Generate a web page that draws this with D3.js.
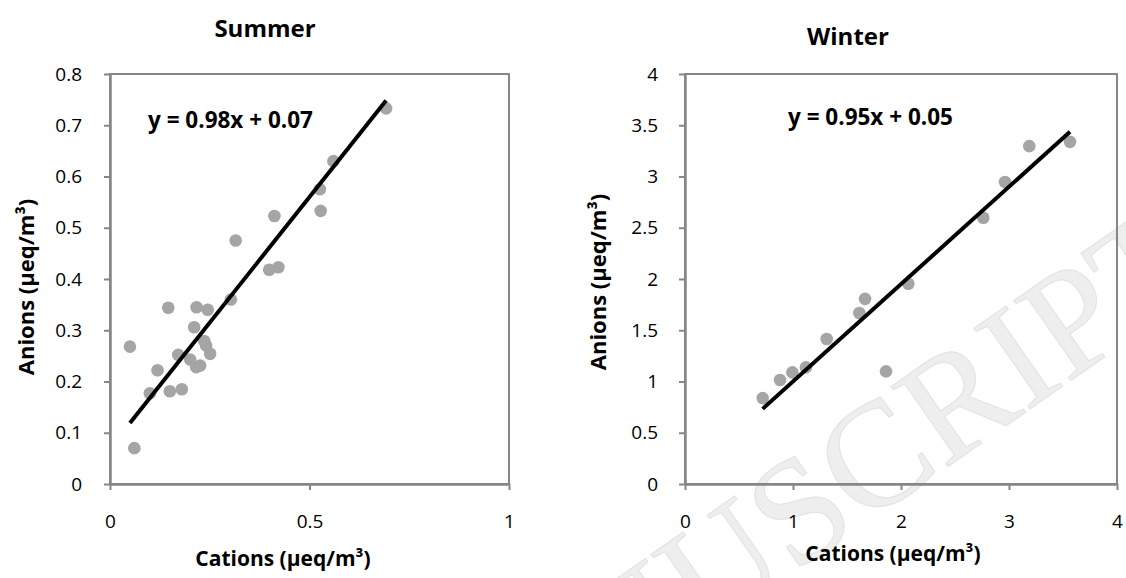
<!DOCTYPE html>
<html>
<head>
<meta charset="utf-8">
<script src="https://cdn.jsdelivr.net/npm/d3@7"></script>
<style>
  body { margin: 0; background: #fff; }
  svg text { font-family: "Open Sans", sans-serif; fill: #000; }
</style>
</head>
<body>
<div id="chart"></div>
<script>
// summer samples
const summerCations = [0.692, 0.560, 0.526, 0.528, 0.412, 0.315, 0.399, 0.422, 0.303, 0.146, 0.217, 0.245, 0.211,
                       0.050, 0.236, 0.241, 0.251, 0.171, 0.201, 0.119, 0.216, 0.226, 0.100, 0.150, 0.180, 0.061];
const summerAnions  = [0.733, 0.630, 0.575, 0.533, 0.523, 0.475, 0.418, 0.423, 0.360, 0.344, 0.345, 0.340, 0.306,
                       0.268, 0.279, 0.270, 0.254, 0.252, 0.243, 0.222, 0.228, 0.231, 0.177, 0.181, 0.185, 0.070];
const summerFit = [0.98, 0.07];
const summerXTicks = [0, 0.5, 1];
const summerYTicks = [0, 0.1, 0.2, 0.3, 0.4, 0.5, 0.6, 0.7, 0.8];

// winter samples
const winterCations = [0.719, 0.880, 0.994, 1.120, 1.312, 1.614, 1.667, 1.861, 2.068, 2.762, 2.963, 3.188, 3.565];
const winterAnions  = [0.838, 1.014, 1.089, 1.138, 1.415, 1.669, 1.806, 1.099, 1.953, 2.598, 2.947, 3.296, 3.338];
const winterFit = [0.95, 0.05];
const winterXTicks = [0, 1, 2, 3, 4];
const winterYTicks = [0, 0.5, 1, 1.5, 2, 2.5, 3, 3.5, 4];

const w = 1126, h = 578;
const axisGrey = '#868686';

const svg = d3.select('#chart')
              .append('svg')
              .attr('width', w)
              .attr('height', h)

// faint manuscript watermark behind everything
svg.append('text')
    .attr('transform', 'translate(1210,283) rotate(-35)')
    .attr('text-anchor', 'end')
    .style('font-family', '"Liberation Serif", serif')
    .style('font-size', '150px')
    .style('fill', '#eeeeee')
    .style('stroke', '#e2e2e2')
    .style('stroke-width', 1)
    .text('MANUSCRIPT')

const drawPanel = (p) => {
    const xScale = d3.scaleLinear()
                    .domain([0, d3.max(p.xTicks)])
                    .range([p.left, p.right])
    const yScale = d3.scaleLinear()
                    .domain([0, d3.max(p.yTicks)])
                    .range([p.bottom, p.top])

    const g = svg.append('g')

    // plot area border
    g.append('rect')
        .attr('x', p.left)
        .attr('y', p.top)
        .attr('width', p.right - p.left)
        .attr('height', p.bottom - p.top)
        .attr('fill', 'none')
        .attr('stroke', axisGrey)
        .attr('stroke-width', 2)

    const xAxis = d3.axisBottom(xScale).tickValues(p.xTicks).tickSize(6).tickSizeOuter(0)
                    .tickFormat(d => String(d)).tickPadding(25);
    const yAxis = d3.axisLeft(yScale).tickValues(p.yTicks).tickSize(6).tickSizeOuter(0)
                    .tickFormat(d => String(d)).tickPadding(p.yPad);

    const gx = g.append('g')
        .attr('transform', 'translate(0,' + p.bottom + ')')
        .call(xAxis)
    const gy = g.append('g')
        .attr('transform', 'translate(' + p.left + ',0)')
        .call(yAxis)

    ;[gx, gy].forEach(a => {
        a.select('.domain').attr('stroke', axisGrey).attr('stroke-width', 2.5)
        a.selectAll('.tick line').attr('stroke', axisGrey).attr('stroke-width', 2)
        a.selectAll('.tick text').style('font-size', '19px').attr('fill', '#000')
    })

    // points
    g.selectAll('circle')
        .data(p.xs)
        .enter()
        .append('circle')
        .attr('cx', d => xScale(d))
        .attr('cy', (d, i) => yScale(p.ys[i]))
        .attr('r', 6.3)
        .attr('fill', '#a5a5a5')

    // linear fit across the sampled range
    const x0 = d3.min(p.xs), x1 = d3.max(p.xs);
    g.append('line')
        .attr('x1', xScale(x0))
        .attr('y1', yScale(p.fit[0] * x0 + p.fit[1]))
        .attr('x2', xScale(x1))
        .attr('y2', yScale(p.fit[0] * x1 + p.fit[1]))
        .attr('stroke', '#000')
        .attr('stroke-width', 4)

    g.append('text')
        .attr('x', p.eqX)
        .attr('y', p.eqY)
        .style('font-size', '22.5px')
        .style('font-weight', 'bold')
        .text('y = ' + p.fit[0] + 'x + ' + p.fit[1].toFixed(2))

    g.append('text')
        .attr('x', p.titleX)
        .attr('y', p.titleY)
        .attr('text-anchor', 'middle')
        .style('font-size', '24px')
        .style('font-weight', 'bold')
        .text(p.title)

    g.append('text')
        .attr('x', p.xLabX)
        .attr('y', p.xLabY)
        .attr('text-anchor', 'middle')
        .style('font-size', '21px')
        .style('font-weight', 'bold')
        .text('Cations (µeq/m³)')

    g.append('text')
        .attr('transform', 'translate(' + p.yLabX + ',' + p.yLabY + ') rotate(-90)')
        .attr('text-anchor', 'middle')
        .style('font-size', '22px')
        .style('font-weight', 'bold')
        .text('Anions (µeq/m³)')
}

drawPanel({
    title: 'Summer', xs: summerCations, ys: summerAnions, fit: summerFit,
    xTicks: summerXTicks, yTicks: summerYTicks,
    left: 110, right: 509, top: 74, bottom: 484, yPad: 22,
    eqX: 148, eqY: 128, titleX: 265, titleY: 37,
    xLabX: 283, xLabY: 566, yLabX: 34, yLabY: 287
})

drawPanel({
    title: 'Winter', xs: winterCations, ys: winterAnions, fit: winterFit,
    xTicks: winterXTicks, yTicks: winterYTicks,
    left: 685, right: 1117, top: 74, bottom: 484, yPad: 21,
    eqX: 788, eqY: 125, titleX: 848, titleY: 45,
    xLabX: 893, xLabY: 561, yLabX: 606, yLabY: 282
})
</script>
</body>
</html>
